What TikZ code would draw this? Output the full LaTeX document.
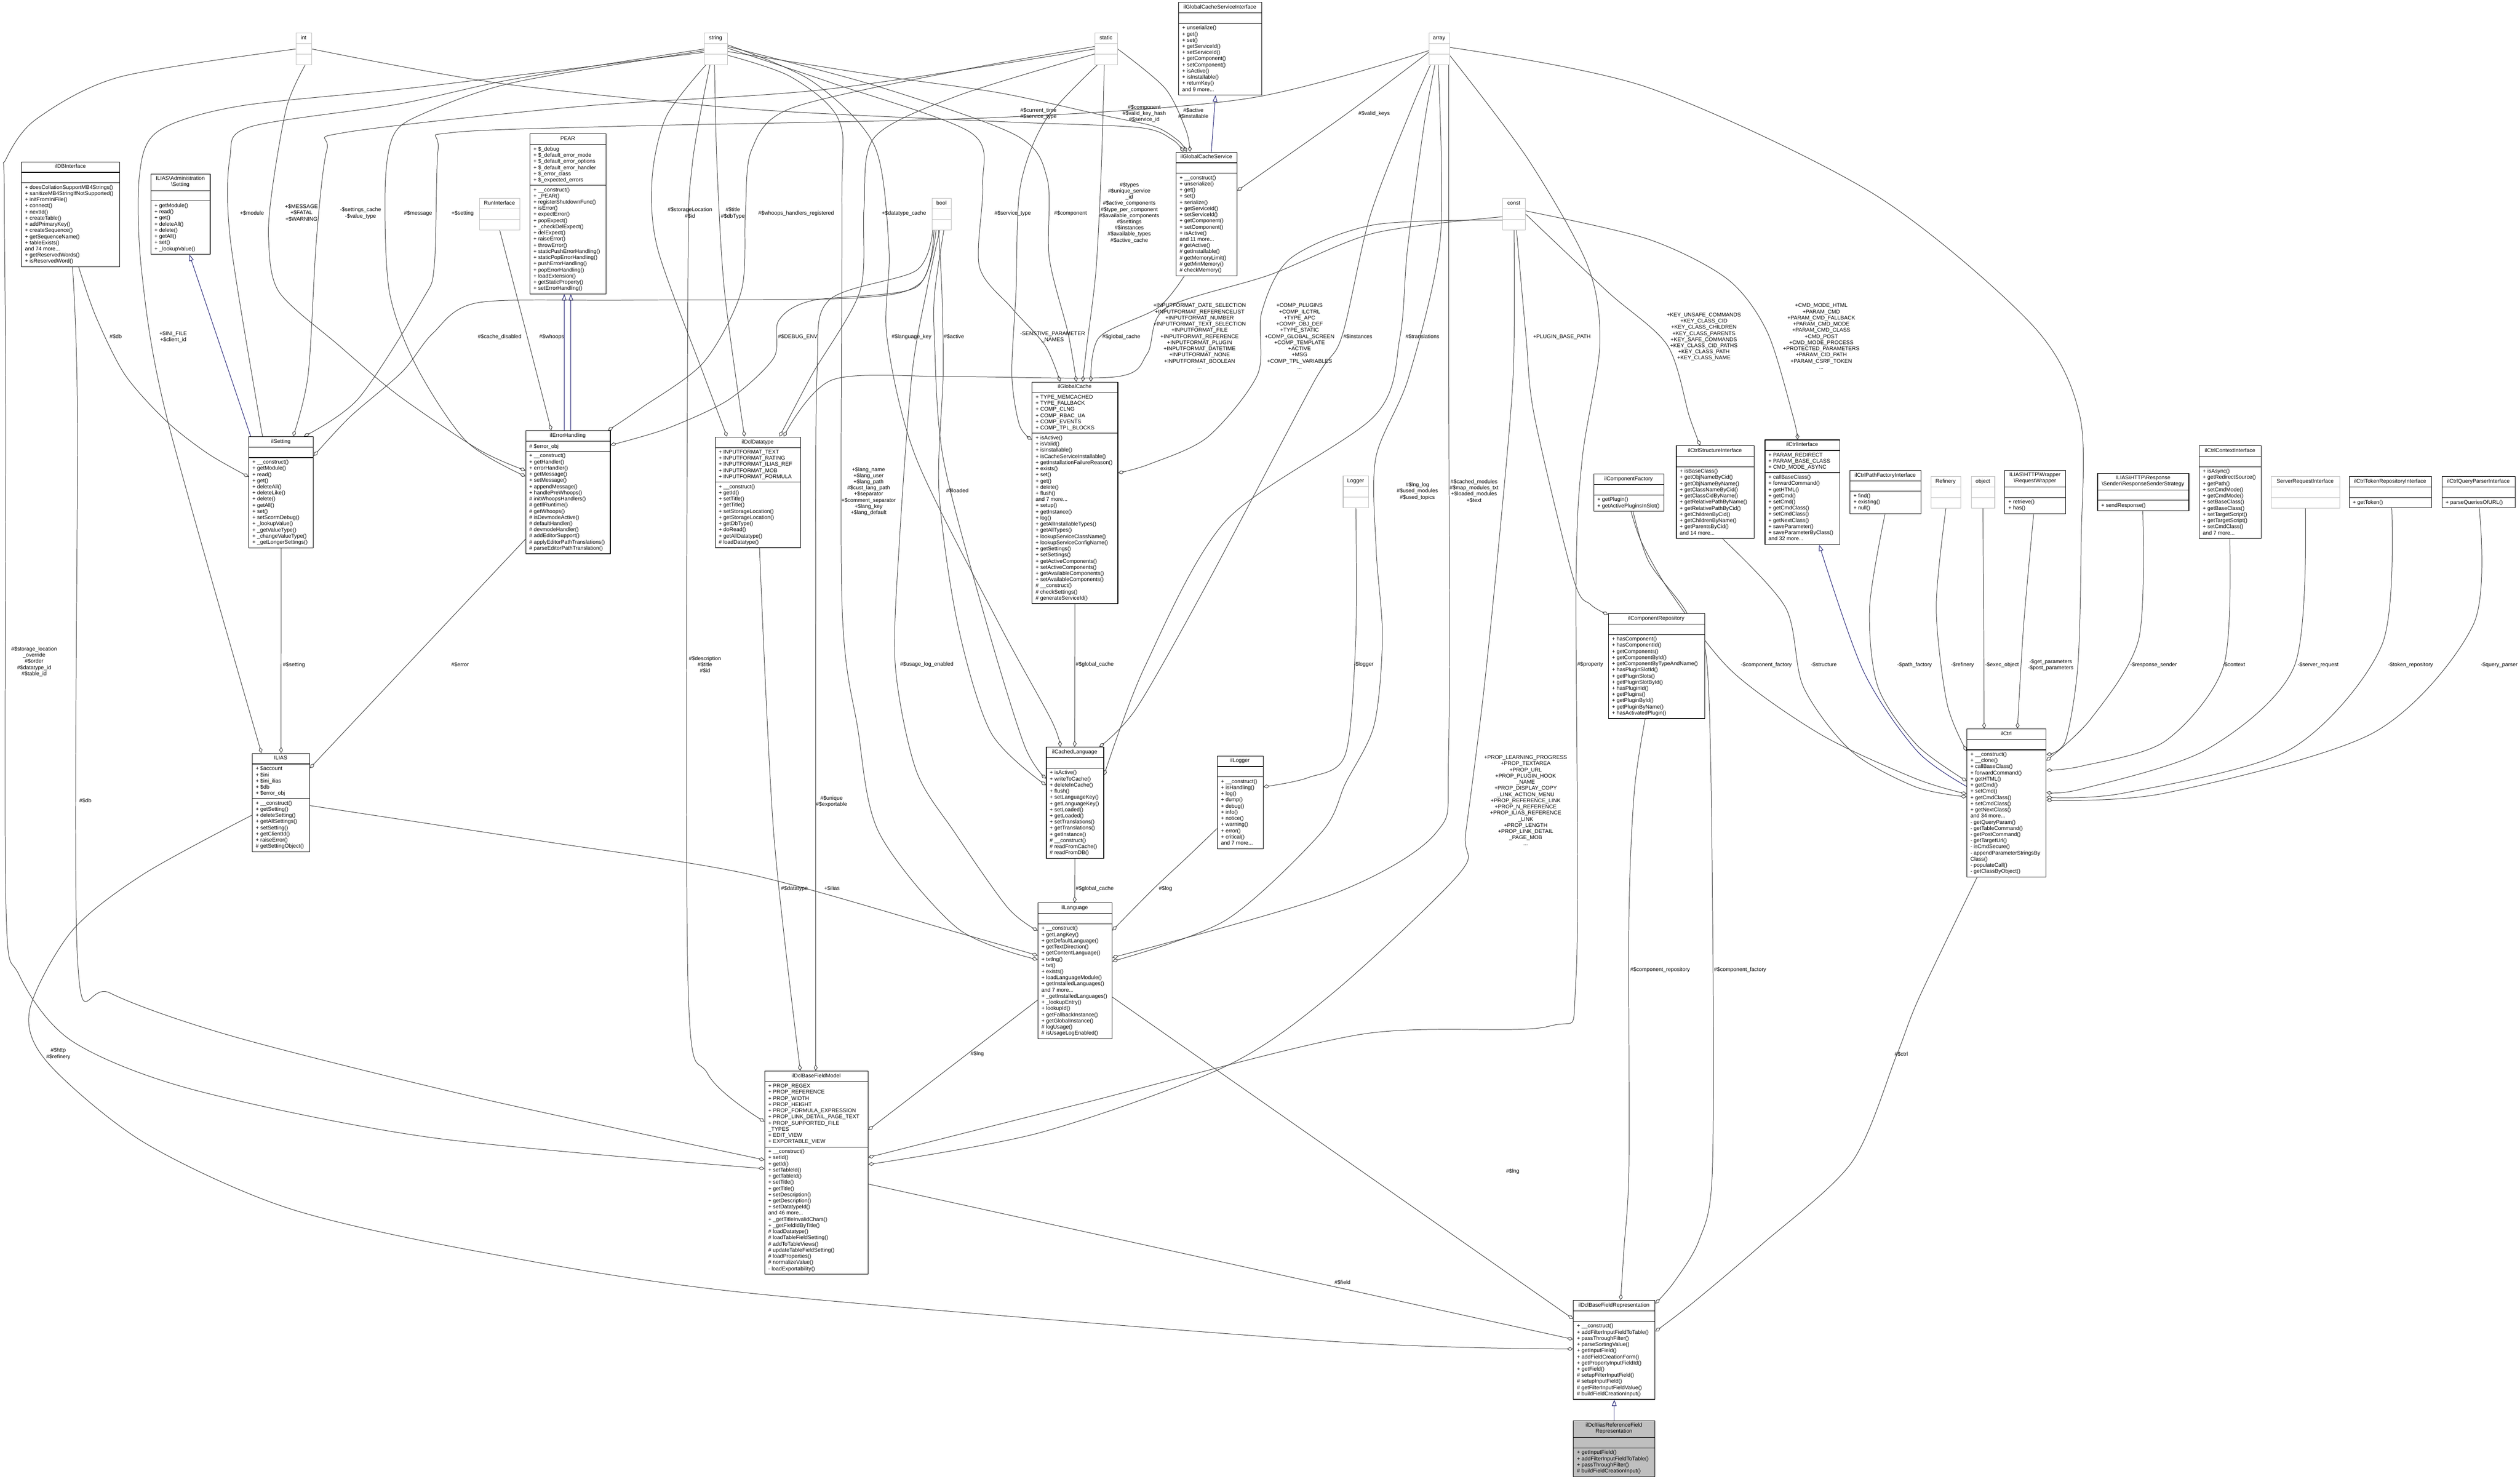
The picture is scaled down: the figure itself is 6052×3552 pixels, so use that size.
\documentclass[tikz,border=0pt]{standalone}
\usepackage{fontspec}
\setmainfont{Liberation Sans}
\usetikzlibrary{arrows.meta}
\definecolor{edgec}{HTML}{404040}
\definecolor{bluec}{HTML}{191970}
\definecolor{grayc}{HTML}{BFBFBF}
\newcommand{\dfont}{\fontsize{13}{14.8}\selectfont}
\pgfdeclarelayer{back}\pgfdeclarelayer{edges}\pgfsetlayers{back,edges,main}
\newcommand{\umlbox}[9]{%
 \pgfmathsetmacro{\hA}{11.2+14.8*#5}%
 \pgfmathsetmacro{\hB}{(#6==0)*25+(#6>0)*(14.8*#6+9)}%
 \pgfmathsetmacro{\hC}{(#7==0)*25+(#7>0)*(14.8*#7+9)}%
 \pgfmathsetmacro{\yA}{#3+\hA}%
 \pgfmathsetmacro{\yB}{#3+\hA+\hB}%
 \pgfmathsetmacro{\hT}{\hA+\hB+\hC}%
 \pgfmathsetmacro{\xR}{#2+#4}%
 \pgfmathsetmacro{\xC}{#2+#4/2}%
 \node[box,#9,minimum width=#4pt,minimum height=\hT pt,anchor=north west] (#1) at (#2,#3) {};%
 \draw[sepl,#9] (#2,\yA) -- (\xR,\yA);%
 \draw[sepl,#9] (#2,\yB) -- (\xR,\yB);%
 \node[ttl,anchor=north] (#1-t) at (\xC,#3+5.6) {#8};%
 \coordinate (#1-a) at (#2+9,\yA+5.6);%
 \coordinate (#1-m) at (#2+9,\yB+5.6);%
}
\begin{document}
\begin{tikzpicture}[x=1pt,y=-1pt,line join=round,
 box/.style={inner sep=0pt,line width=1.4pt},
 nrm/.style={draw=black,fill=white},
 gry/.style={draw=grayc,fill=white},
 fil/.style={draw=black,fill=grayc},
 sepl/.style={line width=1.4pt},
 ttl/.style={inner sep=0pt,font=\dfont,align=center,execute at begin node={\strut}},
 memb/.style={inner sep=0pt,font=\dfont,align=left,anchor=north west,execute at begin node={\strut}},
 lbl/.style={inner sep=0pt,font=\dfont,align=center,execute at begin node={\strut}},
 ue/.style={draw=edgec,line width=1.2pt,-{Diamond[open,length=15pt,width=9pt,line width=1.2pt]}},
 ie/.style={draw=bluec,line width=1.2pt,-{Triangle[open,length=15pt,width=11pt,line width=1.2pt]}}]
\begin{pgfonlayer}{back}
\fill[white] (0,0) rectangle (6052,3552);
\end{pgfonlayer}
\useasboundingbox (0,0) rectangle (6052,3552);

% ---------- classes ----------
\umlbox{int}{710}{79}{38}{1}{0}{0}{int}{gry}
\umlbox{string}{1691}{79}{55}{1}{0}{0}{string}{gry}
\umlbox{static}{2629}{79}{54}{1}{0}{0}{static}{gry}
\umlbox{array}{3431}{79}{50}{1}{0}{0}{array}{gry}
\umlbox{bool}{2238}{476}{46}{1}{0}{0}{bool}{gry}
\umlbox{const}{3608}{476}{55}{1}{0}{0}{const}{gry}
\umlbox{RunInterface}{1151}{476}{97}{1}{0}{0}{RunInterface}{gry}
\umlbox{Logger}{3225}{1143}{61}{1}{0}{0}{Logger}{gry}
\umlbox{Refinery}{4637}{1144}{71}{1}{0}{0}{Refinery}{gry}
\umlbox{object}{4734}{1144}{56}{1}{0}{0}{object}{gry}
\umlbox{SRI}{5454}{1144}{164}{1}{0}{0}{ServerRequestInterface}{gry}

\umlbox{ilDBInterface}{51}{388}{236}{1}{0}{13}{ilDBInterface}{nrm}
\node[memb] (ilDBInterface-mt) at (ilDBInterface-m) {+ doesCollationSupportMB4Strings()\\+ sanitizeMB4StringIfNotSupported()\\+ initFromIniFile()\\+ connect()\\+ nextId()\\+ createTable()\\+ addPrimaryKey()\\+ createSequence()\\+ getSequenceName()\\+ tableExists()\\and 74 more...\\+ getReservedWords()\\+ isReservedWord()};

\umlbox{Setting}{362}{417}{142}{2}{0}{8}{ILIAS\textbackslash Administration\\\textbackslash Setting}{nrm}
\node[memb] (Setting-mt) at (Setting-m) {+ getModule()\\+ read()\\+ get()\\+ deleteAll()\\+ delete()\\+ getAll()\\+ set()\\+ \_lookupValue()};

\umlbox{PEAR}{1272}{321}{183}{1}{6}{17}{PEAR}{nrm}
\node[memb] (PEAR-at) at (PEAR-a) {+ \$\_debug\\+ \$\_default\_error\_mode\\+ \$\_default\_error\_options\\+ \$\_default\_error\_handler\\+ \$\_error\_class\\+ \$\_expected\_errors};
\node[memb] (PEAR-mt) at (PEAR-m) {+ \_\_construct()\\+ \_PEAR()\\+ registerShutdownFunc()\\+ isError()\\+ expectError()\\+ popExpect()\\+ \_checkDelExpect()\\+ delExpect()\\+ raiseError()\\+ throwError()\\+ staticPushErrorHandling()\\+ staticPopErrorHandling()\\+ pushErrorHandling()\\+ popErrorHandling()\\+ loadExtension()\\+ getStaticProperty()\\+ setErrorHandling()};

\umlbox{GCSI}{2830}{5}{199}{1}{0}{11}{ilGlobalCacheServiceInterface}{nrm}
\node[memb] (GCSI-mt) at (GCSI-m) {+ unserialize()\\+ get()\\+ set()\\+ getServiceId()\\+ setServiceId()\\+ getComponent()\\+ setComponent()\\+ isActive()\\+ isInstallable()\\+ returnKey()\\and 9 more...};

\umlbox{GCS}{2824}{365}{146}{1}{0}{16}{ilGlobalCacheService}{nrm}
\node[memb] (GCS-mt) at (GCS-m) {+ \_\_construct()\\+ unserialize()\\+ get()\\+ set()\\+ serialize()\\+ getServiceId()\\+ setServiceId()\\+ getComponent()\\+ setComponent()\\+ isActive()\\and 11 more...\\\# getActive()\\\# getInstallable()\\\# getMemoryLimit()\\\# getMinMemory()\\\# checkMemory()};

\umlbox{ilSetting}{597}{1048}{155}{1}{0}{14}{ilSetting}{nrm}
\node[memb] (ilSetting-mt) at (ilSetting-m) {+ \_\_construct()\\+ getModule()\\+ read()\\+ get()\\+ deleteAll()\\+ deleteLike()\\+ delete()\\+ getAll()\\+ set()\\+ setScormDebug()\\+ \_lookupValue()\\+ \_getValueType()\\+ \_changeValueType()\\+ \_getLongerSettings()};

\umlbox{EH}{1262}{1034}{203}{1}{1}{16}{ilErrorHandling}{nrm}
\node[memb] (EH-at) at (EH-a) {\# \$error\_obj};
\node[memb] (EH-mt) at (EH-m) {+ \_\_construct()\\+ getHandler()\\+ errorHandler()\\+ getMessage()\\+ setMessage()\\+ appendMessage()\\+ handlePreWhoops()\\\# initWhoopsHandlers()\\\# getIlRuntime()\\\# getWhoops()\\\# isDevmodeActive()\\\# defaultHandler()\\\# devmodeHandler()\\\# addEditorSupport()\\\# applyEditorPathTranslations()\\\# parseEditorPathTranslation()};

\umlbox{DT}{1717}{1049}{205}{1}{5}{10}{ilDclDatatype}{nrm}
\node[memb] (DT-at) at (DT-a) {+ INPUTFORMAT\_TEXT\\+ INPUTFORMAT\_RATING\\+ INPUTFORMAT\_ILIAS\_REF\\+ INPUTFORMAT\_MOB\\+ INPUTFORMAT\_FORMULA};
\node[memb] (DT-mt) at (DT-m) {+ \_\_construct()\\+ getId()\\+ setTitle()\\+ getTitle()\\+ setStorageLocation()\\+ getStorageLocation()\\+ getDbType()\\+ doRead()\\+ getAllDatatype()\\\# loadDatatype()};

\umlbox{GC}{2478}{917}{206}{1}{6}{27}{ilGlobalCache}{nrm}
\node[memb] (GC-at) at (GC-a) {+ TYPE\_MEMCACHED\\+ TYPE\_FALLBACK\\+ COMP\_CLNG\\+ COMP\_RBAC\_UA\\+ COMP\_EVENTS\\+ COMP\_TPL\_BLOCKS};
\node[memb] (GC-mt) at (GC-m) {+ isActive()\\+ isValid()\\+ isInstallable()\\+ isCacheServiceInstallable()\\+ getInstallationFailureReason()\\+ exists()\\+ set()\\+ get()\\+ delete()\\+ flush()\\and 7 more...\\+ setup()\\+ getInstance()\\+ log()\\+ getAllInstallableTypes()\\+ getAllTypes()\\+ lookupServiceClassName()\\+ lookupServiceConfigName()\\+ getSettings()\\+ setSettings()\\+ getActiveComponents()\\+ setActiveComponents()\\+ getAvailableComponents()\\+ setAvailableComponents()\\\# \_\_construct()\\\# checkSettings()\\\# generateServiceId()};

\umlbox{CS}{4025}{1070}{187}{1}{0}{11}{ilCtrlStructureInterface}{nrm}
\node[memb] (CS-mt) at (CS-m) {+ isBaseClass()\\+ getObjNameByCid()\\+ getObjNameByName()\\+ getClassNameByCid()\\+ getClassCidByName()\\+ getRelativePathByName()\\+ getRelativePathByCid()\\+ getChildrenByCid()\\+ getChildrenByName()\\+ getParentsByCid()\\and 14 more...};

\umlbox{CI}{4238}{1056}{180}{1}{3}{11}{ilCtrlInterface}{nrm}
\node[memb] (CI-at) at (CI-a) {+ PARAM\_REDIRECT\\+ PARAM\_BASE\_CLASS\\+ CMD\_MODE\_ASYNC};
\node[memb] (CI-mt) at (CI-m) {+ callBaseClass()\\+ forwardCommand()\\+ getHTML()\\+ getCmd()\\+ setCmd()\\+ getCmdClass()\\+ setCmdClass()\\+ getNextClass()\\+ saveParameter()\\+ saveParameterByClass()\\and 32 more...};

\umlbox{CF}{3827}{1138}{168}{1}{0}{2}{ilComponentFactory}{nrm}
\node[memb] (CF-mt) at (CF-m) {+ getPlugin()\\+ getActivePluginsInSlot()};

\umlbox{PF}{4442}{1129}{171}{1}{0}{3}{ilCtrlPathFactoryInterface}{nrm}
\node[memb] (PF-mt) at (PF-m) {+ find()\\+ existing()\\+ null()};

\umlbox{RW}{4814}{1129}{146}{2}{0}{2}{ILIAS\textbackslash HTTP\textbackslash Wrapper\\\textbackslash RequestWrapper}{nrm}
\node[memb] (RW-mt) at (RW-m) {+ retrieve()\\+ has()};

\umlbox{RS}{5037}{1136}{219}{2}{0}{1}{ILIAS\textbackslash HTTP\textbackslash Response\\\textbackslash Sender\textbackslash ResponseSenderStrategy}{nrm}
\node[memb] (RS-mt) at (RS-m) {+ sendResponse()};

\umlbox{CC}{5281}{1070}{149}{1}{0}{11}{ilCtrlContextInterface}{nrm}
\node[memb] (CC-mt) at (CC-m) {+ isAsync()\\+ getRedirectSource()\\+ getPath()\\+ setCmdMode()\\+ getCmdMode()\\+ setBaseClass()\\+ getBaseClass()\\+ setTargetScript()\\+ getTargetScript()\\+ setCmdClass()\\and 7 more...};

\umlbox{CT}{5641}{1144}{198}{1}{0}{1}{ilCtrlTokenRepositoryInterface}{nrm}
\node[memb] (CT-mt) at (CT-m) {+ getToken()};

\umlbox{CQ}{5864}{1144}{176}{1}{0}{1}{ilCtrlQueryParserInterface}{nrm}
\node[memb] (CQ-mt) at (CQ-m) {+ parseQueriesOfURL()};

\umlbox{CR}{3862}{1473}{231}{1}{0}{13}{ilComponentRepository}{nrm}
\node[memb] (CR-mt) at (CR-m) {+ hasComponent()\\+ hasComponentId()\\+ getComponents()\\+ getComponentById()\\+ getComponentByTypeAndName()\\+ hasPluginSlotId()\\+ getPluginSlots()\\+ getPluginSlotById()\\+ hasPluginId()\\+ getPlugins()\\+ getPluginById()\\+ getPluginByName()\\+ hasActivatedPlugin()};

\umlbox{ILIAS}{605}{1809}{138}{1}{5}{8}{ILIAS}{nrm}
\node[memb] (ILIAS-at) at (ILIAS-a) {+ \$account\\+ \$ini\\+ \$ini\_ilias\\+ \$db\\+ \$error\_obj};
\node[memb] (ILIAS-mt) at (ILIAS-m) {+ \_\_construct()\\+ getSetting()\\+ deleteSetting()\\+ getAllSettings()\\+ setSetting()\\+ getClientId()\\+ raiseError()\\\# getSettingObject()};

\umlbox{CL}{2512}{1794}{138}{1}{0}{14}{ilCachedLanguage}{nrm}
\node[memb] (CL-mt) at (CL-m) {+ isActive()\\+ writeToCache()\\+ deleteInCache()\\+ flush()\\+ setLanguageKey()\\+ getLanguageKey()\\+ setLoaded()\\+ getLoaded()\\+ setTranslations()\\+ getTranslations()\\+ getInstance()\\\# \_\_construct()\\\# readFromCache()\\\# readFromDB()};

\umlbox{ilLogger}{2923}{1815}{110}{1}{0}{11}{ilLogger}{nrm}
\node[memb] (ilLogger-mt) at (ilLogger-m) {+ \_\_construct()\\+ isHandling()\\+ log()\\+ dump()\\+ debug()\\+ info()\\+ notice()\\+ warning()\\+ error()\\+ critical()\\and 7 more...};

\umlbox{ilCtrl}{4723}{1750}{190}{1}{0}{20}{ilCtrl}{nrm}
\node[memb] (ilCtrl-mt) at (ilCtrl-m) {+ \_\_construct()\\+ \_\_clone()\\+ callBaseClass()\\+ forwardCommand()\\+ getHTML()\\+ getCmd()\\+ setCmd()\\+ getCmdClass()\\+ setCmdClass()\\+ getNextClass()\\and 34 more...\\- getQueryParam()\\- getTableCommand()\\- getPostCommand()\\- getTargetUrl()\\- isCmdSecure()\\- appendParameterStringsBy\\Class()\\- populateCall()\\- getClassByObject()};

\umlbox{LNG}{2492}{2168}{178}{1}{0}{18}{ilLanguage}{nrm}
\node[memb] (LNG-mt) at (LNG-m) {+ \_\_construct()\\+ getLangKey()\\+ getDefaultLanguage()\\+ getTextDirection()\\+ getContentLanguage()\\+ txtlng()\\+ txt()\\+ exists()\\+ loadLanguageModule()\\+ getInstalledLanguages()\\and 7 more...\\+ \_getInstalledLanguages()\\+ \_lookupEntry()\\+ lookupId()\\+ getFallbackInstance()\\+ getGlobalInstance()\\\# logUsage()\\\# isUsageLogEnabled()};

\umlbox{FM}{1836}{2572}{248}{1}{10}{20}{ilDclBaseFieldModel}{nrm}
\node[memb] (FM-at) at (FM-a) {+ PROP\_REGEX\\+ PROP\_REFERENCE\\+ PROP\_WIDTH\\+ PROP\_HEIGHT\\+ PROP\_FORMULA\_EXPRESSION\\+ PROP\_LINK\_DETAIL\_PAGE\_TEXT\\+ PROP\_SUPPORTED\_FILE\\\_TYPES\\+ EDIT\_VIEW\\+ EXPORTABLE\_VIEW};
\node[memb] (FM-mt) at (FM-m) {+ \_\_construct()\\+ setId()\\+ getId()\\+ setTableId()\\+ getTableId()\\+ setTitle()\\+ getTitle()\\+ setDescription()\\+ getDescription()\\+ setDatatypeId()\\and 46 more...\\+ \_getTitleInvalidChars()\\+ \_getFieldIdByTitle()\\\# loadDatatype()\\\# loadTableFieldSetting()\\\# addToTableViews()\\\# updateTableFieldSetting()\\\# loadProperties()\\\# normalizeValue()\\- loadExportability()};

\umlbox{BFR}{3778}{3123}{196}{1}{0}{12}{ilDclBaseFieldRepresentation}{nrm}
\node[memb] (BFR-mt) at (BFR-m) {+ \_\_construct()\\+ addFilterInputFieldToTable()\\+ passThroughFilter()\\+ parseSortingValue()\\+ getInputField()\\+ addFieldCreationForm()\\+ getPropertyInputFieldId()\\+ getField()\\\# setupFilterInputField()\\\# setupInputField()\\\# getFilterInputFieldValue()\\\# buildFieldCreationInput()};

\umlbox{REF}{3778}{3412}{196}{2}{0}{4}{ilDclIliasReferenceField\\Representation}{fil}
\node[memb] (REF-mt) at (REF-m) {+ getInputField()\\+ addFilterInputFieldToTable()\\+ passThroughFilter()\\\# buildFieldCreationInput()};

% ---------- edges ----------
\begin{pgfonlayer}{edges}
% inheritance
\draw[ie] ([xshift=5pt]ilSetting.north west) -- ([xshift=93pt]Setting.south west);
\draw[ie] ([xshift=93pt]EH.north west) -- ([xshift=83pt]PEAR.south west);
\draw[ie] ([xshift=109pt]EH.north west) -- ([xshift=99pt]PEAR.south west);
\draw[ie] ([xshift=85pt]GCS.north west) -- ([xshift=89pt]GCSI.south west);
\draw[ie] plot[smooth] coordinates {([yshift=-139pt]ilCtrl.north west) (4604,1804) (4475,1612) ([xshift=131pt]CI.south west)};
\draw[ie] (REF.north) -- (BFR.south);
% usage
\draw[ue] plot[smooth] coordinates {(string.west) (1234,190) (957,250) (600,305) (552,380) (553,574) (622,1000) ([xshift=35pt]ilSetting.north west)};
\draw[ue] plot[smooth] coordinates {([yshift=-8pt]string.west) (1000,210) (574,255) (380,315) (335,420) (340,650) (400,1000) ([xshift=23pt]ILIAS.north west)};
\draw[ue] plot[smooth] coordinates {([xshift=3pt]int.south) (689,255) (655,446) (645,574) (670,701) (813,829) (957,950) (1150,1080) ([yshift=-96pt]EH.north west)};
\draw[ue] plot[smooth] coordinates {(static.west) (1980,215) (1400,255) (830,318) (785,360) (760,574) (740,900) ([xshift=107pt]ilSetting.north west)};
\draw[ue] plot[smooth] coordinates {([yshift=-4pt]string.west) (1234,198) (1014,274) (945,325) (925,450) (935,700) (1000,880) (1120,1060) ([yshift=-110pt]EH.north west)};
\draw[ue] plot[smooth] coordinates {([yshift=-4pt]array.west) (3000,236) (2400,282) (1500,303) (1081,319) (1052,360) (1043,638) (1014,721) (861,957) ([xshift=133pt]ilSetting.north west)};
\draw[ue] plot[smooth] coordinates {([xshift=138pt]ilDBInterface.south west) (230,760) (300,900) (400,1012) (500,1090) ([yshift=-97pt]ilSetting.north west)};
\draw[ue] plot[smooth] coordinates {([xshift=10pt]bool.south west) (2210,680) (2050,716) (1500,721) (1148,727) (1040,800) (966,893) (842,1000) ([yshift=-47pt]ilSetting.north east)};
\draw[ue] plot[smooth] coordinates {(RunInterface.south) (1264,800) ([xshift=62pt]EH.north west)};
\draw[ue] plot[smooth] coordinates {([yshift=6pt]static.west) (2300,170) (1900,260) (1805,360) (1790,513) (1780,700) (1690,870) (1540,980) ([xshift=198pt]EH.north west)};
\draw[ue] plot[smooth] coordinates {([xshift=5pt]bool.south west) (2200,690) (1950,722) (1870,770) (1858,860) (1750,960) (1600,1030) ([yshift=-35pt]EH.north east)};
\draw[ue] plot[smooth] coordinates {([xshift=4pt]string.south west) (1600,280) (1566,430) (1580,600) (1690,900) ([xshift=29pt]DT.north west)};
\draw[ue] plot[smooth] coordinates {([xshift=25pt]string.south west) (1722,400) (1740,700) ([xshift=71pt]DT.north west)};
\draw[ue] plot[smooth] coordinates {([xshift=14pt]string.south west) (1662,400) (1652,700) (1652,2350) (1700,2580) ([yshift=-122pt]FM.north west)};
\draw[ue] plot[smooth] coordinates {([yshift=-12pt]static.west) (2300,230) (2100,330) (2075,500) (2065,700) (1950,900) ([xshift=155pt]DT.north west)};
\draw[ue] plot[smooth] coordinates {([yshift=-6pt]const.west) (3300,560) (3050,660) (2800,740) (2755,850) (2680,905) (2300,905) (2000,912) ([xshift=165pt]DT.north west)};
\draw[ue] plot[smooth] coordinates {([xshift=23pt]static.south west) (2645,400) (2632,650) (2610,830) ([xshift=122pt]GC.north west)};
\draw[ue] plot[smooth] coordinates {([yshift=6pt]string.east) (2100,205) (2440,325) (2515,430) (2520,620) (2565,800) ([xshift=107pt]GC.north west)};
\draw[ue] plot[smooth] coordinates {([yshift=2pt]string.east) (2000,200) (2332,319) (2360,446) (2352,640) (2430,740) (2510,830) ([xshift=68pt]GC.north west)};
\draw[ue] plot[smooth] coordinates {([xshift=20pt]GCS.south west) (2780,740) (2640,810) ([xshift=142pt]GC.north west)};
\draw[ue] plot[smooth] coordinates {([xshift=6pt]static.south west) (2510,290) (2450,450) (2440,700) (2430,900) (2448,1020) ([yshift=-139pt]GC.north west)};
\draw[ue] plot[smooth] coordinates {([yshift=-14pt]const.west) (3300,540) (3100,620) (3030,750) (3020,900) (2900,1050) (2760,1115) ([yshift=-219pt]GC.north east)};
\draw[ue] plot[smooth] coordinates {(int.east) (1200,200) (1800,262) (2400,292) (2732,306) (2815,335) ([xshift=18pt]GCS.north west)};
\draw[ue] plot[smooth] coordinates {([yshift=-6pt]string.east) (2100,180) (2400,223) (2649,277) (2773,304) (2831,339) ([xshift=26pt]GCS.north west)};
\draw[ue] plot[smooth] coordinates {(static.east) (2798,212) (2848,312) ([xshift=34pt]GCS.north west)};
\draw[ue] plot[smooth] coordinates {([yshift=-8pt]array.west) (3229,277) ([yshift=-93pt]GCS.north east)};
\draw[ue] (GC.south) -- ([xshift=69pt]CL.north west);
\draw[ue] plot[smooth] coordinates {([yshift=10pt]string.east) (1950,195) (2100,350) (2135,600) (2130,810) (2200,1100) (2400,1500) (2525,1730) ([xshift=34pt]CL.north west)};
\draw[ue] plot[smooth] coordinates {([xshift=5pt]bool.south) (2245,700) (2244,810) (2265,1100) (2370,1500) (2460,1790) ([yshift=-76pt]CL.north west)};
\draw[ue] plot[smooth] coordinates {([xshift=16pt]bool.south west) (2262,700) (2265,900) (2255,1180) (2300,1500) (2380,1760) ([yshift=-92pt]CL.north west)};
\draw[ue] plot[smooth] coordinates {([xshift=4pt]array.south west) (3390,260) (3290,520) (3222,810) (3154,920) (2900,1400) (2730,1700) ([xshift=128pt]CL.north west)};
\draw[ue] plot[smooth] coordinates {([xshift=15pt]array.south west) (3420,300) (3380,600) (3362,810) (3300,1000) (2944,1251) (2750,1600) ([yshift=-68pt]CL.north east)};
\draw[ue] (CL.south) -- ([xshift=89pt]LNG.north west);
\draw[ue] plot[smooth] coordinates {([yshift=-126pt]ILIAS.north east) (1300,2020) (1800,2100) (2300,2240) ([yshift=-127pt]LNG.north west)};
\draw[ue] plot[smooth] coordinates {([yshift=-15pt]string.east) (1900,185) (2015,290) (2022,500) (2022,1447) (2060,1750) (2111,2000) (2300,2230) ([yshift=-137pt]LNG.north west)};
\draw[ue] plot[smooth] coordinates {([xshift=-5pt]bool.south) (2225,700) (2190,900) (2160,1300) (2150,1597) (2200,1850) (2293,2000) (2420,2180) ([yshift=-67pt]LNG.north west)};
\draw[ue] plot[smooth] coordinates {([yshift=-175pt]ilLogger.north west) (2850,2060) (2770,2135) ([yshift=-67pt]LNG.north east)};
\draw[ue] plot[smooth] coordinates {([xshift=48pt]array.south west) (3479,800) (3479,1800) (3449,2000) (3200,2148) ([yshift=-132pt]LNG.north east)};
\draw[ue] plot[smooth] coordinates {([xshift=23pt]array.south west) (3459,574) (3383,906) (3304,1100) (3305,1321) (3320,1531) (3300,1742) (3231,1882) (3173,2000) (2944,2210) ([yshift=-141pt]LNG.north east)};
\draw[ue] plot[smooth] coordinates {(Logger.south) (3256,1531) (3231,1812) (3141,1868) ([yshift=-75pt]ilLogger.north east)};
\draw[ue] plot[smooth] coordinates {([xshift=107pt]DT.south west) (1858,2000) ([xshift=86pt]FM.north west)};
\draw[ue] plot[smooth] coordinates {([xshift=2pt]bool.south west) (2200,650) (1990,722) (1962,900) (1959,1500) ([xshift=123pt]FM.north west)};
\draw[ue] plot[smooth] coordinates {([xshift=123pt]ilDBInterface.south west) (186,1000) (186,2300) (264,2385) (562,2490) (1148,2637) ([yshift=-214pt]FM.north west)};
\draw[ue] plot[smooth] coordinates {(int.west) (287,185) (86,287) (14,383) (10,446) (14,1000) (14,2163) (46,2342) (172,2500) (459,2616) (1033,2732) ([yshift=-235pt]FM.north west)};
\draw[ue] ([yshift=-234pt]LNG.north west) -- ([yshift=-142pt]FM.north east);
\draw[ue] plot[smooth] coordinates {([yshift=-55pt]array.north east) (3670,383) (3813,638) (3842,829) (3800,1100) (3785,1391) (3785,2346) (3720,2465) (3265,2485) (2600,2650) ([yshift=-208pt]FM.north east)};
\draw[ue] plot[smooth] coordinates {([xshift=28pt]const.south west) (3634,900) (3600,1300) (3562,1672) (3520,2000) (3504,2099) (3200,2386) (2944,2561) (2500,2720) ([yshift=-225pt]FM.north east)};
\draw[ue] plot[smooth] coordinates {([xshift=34pt]const.south west) (3665,810) (3685,1000) (3779,1391) (3820,1452) ([yshift=-3pt]CR.north west)};
\draw[ue] plot[smooth] coordinates {(const.east) (3861,701) (4004,829) (4057,1000) ([xshift=58pt]CS.north west)};
\draw[ue] plot[smooth] coordinates {([yshift=8pt]const.east) (3957,574) (4148,670) (4244,797) (4306,1000) ([xshift=79pt]CI.north west)};
\draw[ue] plot[smooth] coordinates {([yshift=-35pt]array.north east) (3957,210) (4500,466) (4880,780) (4995,1000) (4998,1300) (4990,1600) (4960,1780) ([yshift=-62pt]ilCtrl.north east)};
\draw[ue] plot[smooth] coordinates {(Refinery.south) (4650,1460) (4676,1690) ([yshift=-54pt]ilCtrl.north west)};
\draw[ue] plot[smooth] coordinates {([xshift=28pt]object.south west) (4764,1500) ([xshift=42pt]ilCtrl.north west)};
\draw[ue] plot[smooth] coordinates {([xshift=70pt]RW.south west) (4860,1500) ([xshift=122pt]ilCtrl.north west)};
\draw[ue] plot[smooth] coordinates {([xshift=85pt]PF.south west) (4490,1459) (4510,1650) (4604,1790) ([yshift=-126pt]ilCtrl.north west)};
\draw[ue] plot[smooth] coordinates {([xshift=90pt]CF.south west) (3944,1306) (4015,1428) (4159,1612) (4374,1765) (4600,1870) ([yshift=-157pt]ilCtrl.north west)};
\draw[ue] plot[smooth] coordinates {([xshift=112pt]CS.south west) (4288,1459) (4331,1650) (4446,1804) (4600,1890) ([yshift=-164pt]ilCtrl.north west)};
\draw[ue] plot[smooth] coordinates {([xshift=109pt]RS.south west) (5136,1536) (5021,1727) ([yshift=-77pt]ilCtrl.north east)};
\draw[ue] plot[smooth] coordinates {([xshift=74pt]CC.south west) (5340,1600) (5200,1780) (5000,1840) ([yshift=-100pt]ilCtrl.north east)};
\draw[ue] plot[smooth] coordinates {(SRI.south) (5510,1600) (5300,1800) (5000,1895) ([yshift=-153pt]ilCtrl.north east)};
\draw[ue] plot[smooth] coordinates {([xshift=103pt]CT.south west) (5720,1550) (5500,1800) (5100,1905) ([yshift=-165pt]ilCtrl.north east)};
\draw[ue] plot[smooth] coordinates {([xshift=90pt]CQ.south west) (5940,1500) (5700,1760) (5200,1905) ([yshift=-172pt]ilCtrl.north east)};
\draw[ue] plot[smooth] coordinates {([xshift=89pt]CR.south west) (3925,1900) (3912,2200) (3912,2800) (3900,3000) ([xshift=114pt]BFR.north west)};
\draw[ue] plot[smooth] coordinates {([xshift=95pt]CF.south west) (3960,1350) (4050,1470) (4100,1600) (4113,2200) (4112,2820) (4080,2980) (4020,3080) ([yshift=-8pt]BFR.north east)};
\draw[ue] plot[smooth] coordinates {([xshift=25pt]ilCtrl.south west) (4609,2396) (4555,2534) (4447,2792) (4230,2990) (4067,3128) ([yshift=-75pt]BFR.north east)};
\draw[ue] ([yshift=-227pt]LNG.north east) -- ([yshift=-45pt]BFR.north west);
\draw[ue] ([yshift=-272pt]FM.north east) -- ([yshift=-94pt]BFR.north west);
\draw[ue] plot[smooth] coordinates {([yshift=-149pt]ILIAS.north west) (344,2100) (172,2237) (71,2427) (115,2553) (344,2743) (689,2901) (1148,3006) (1800,3106) (3200,3222) ([yshift=-117pt]BFR.north west)};
\draw[ue] ([yshift=-261pt]EH.north west) -- ([yshift=-36pt]ILIAS.north east);
\draw[ue] (ilSetting.south) -- ([xshift=70pt]ILIAS.north west);
\end{pgfonlayer}

% ---------- labels ----------
\node[lbl] (l01) at (605,513) {+\$module};
\node[lbl] (l02) at (724,513) {+\$MESSAGE\\+\$FATAL\\+\$WARNING};
\node[lbl] (l03) at (866,513) {-\$settings\_cache\\-\$value\_type};
\node[lbl] (l04) at (1004,513) {\#\$message};
\node[lbl] (l05) at (1111,513) {+\$setting};
\node[lbl] (l06) at (1657,513) {\#\$storageLocation\\\#\$id};
\node[lbl] (l07) at (1760,513) {\#\$title\\\#\$dbType};
\node[lbl] (l08) at (1912,513) {\#\$whoops\_handlers\_registered};
\node[lbl] (l09) at (2171,513) {+\$datatype\_cache};
\node[lbl] (l10) at (2432,513) {\#\$service\_type};
\node[lbl] (l11) at (2571,513) {\#\$component};
\node[lbl] (l12) at (2712,512) {\#\$types\\\#\$unique\_service\\\_id\\\#\$active\_components\\\#\$type\_per\_component\\\#\$available\_components\\\#\$settings\\\#\$instances\\\#\$available\_types\\\#\$active\_cache};
\node[lbl] (l13) at (2494,274) {\#\$current\_time\\\#\$service\_type};
\node[lbl] (l14) at (2748,274) {\#\$component\\\#\$valid\_key\_hash\\\#\$service\_id};
\node[lbl] (l15) at (2866,274) {\#\$active\\\#\$installable};
\node[lbl] (l16) at (3300,274) {\#\$valid\_keys};
\node[lbl] (l17) at (278,810) {\#\$db};
\node[lbl] (l18) at (416,810) {+\$INI\_FILE\\+\$client\_id};
\node[lbl] (l19) at (1200,810) {\#\$cache\_disabled};
\node[lbl] (l20) at (1325,810) {\#\$whoops};
\node[lbl] (l21) at (1916,810) {\#\$DEBUG\_ENV};
\node[lbl] (l22) at (2189,810) {\#\$language\_key};
\node[lbl] (l23) at (2291,810) {\#\$active};
\node[lbl] (l24) at (2528,810) {-SENSTIVE\_PARAMETER\\\_NAMES};
\node[lbl] (l25) at (2693,810) {\#\$global\_cache};
\node[lbl] (l26) at (2881,810) {+INPUTFORMAT\_DATE\_SELECTION\\+INPUTFORMAT\_REFERENCELIST\\+INPUTFORMAT\_NUMBER\\+INPUTFORMAT\_TEXT\_SELECTION\\+INPUTFORMAT\_FILE\\+INPUTFORMAT\_REFERENCE\\+INPUTFORMAT\_PLUGIN\\+INPUTFORMAT\_DATETIME\\+INPUTFORMAT\_NONE\\+INPUTFORMAT\_BOOLEAN\\...};
\node[lbl] (l27) at (3121,810) {+COMP\_PLUGINS\\+COMP\_ILCTRL\\+TYPE\_APC\\+COMP\_OBJ\_DEF\\+TYPE\_STATIC\\+COMP\_GLOBAL\_SCREEN\\+COMP\_TEMPLATE\\+ACTIVE\\+MSG\\+COMP\_TPL\_VARIABLES\\...};
\node[lbl] (l28) at (3261,810) {\#\$instances};
\node[lbl] (l29) at (3416,810) {\#\$translations};
\node[lbl] (l30) at (3751,810) {+PLUGIN\_BASE\_PATH};
\node[lbl] (l31) at (4092,810) {+KEY\_UNSAFE\_COMMANDS\\+KEY\_CLASS\_CID\\+KEY\_CLASS\_CHILDREN\\+KEY\_CLASS\_PARENTS\\+KEY\_SAFE\_COMMANDS\\+KEY\_CLASS\_CID\_PATHS\\+KEY\_CLASS\_PATH\\+KEY\_CLASS\_NAME};
\node[lbl] (l32) at (4374,810) {+CMD\_MODE\_HTML\\+PARAM\_CMD\\+PARAM\_CMD\_FALLBACK\\+PARAM\_CMD\_MODE\\+PARAM\_CMD\_CLASS\\+CMD\_POST\\+CMD\_MODE\_PROCESS\\+PROTECTED\_PARAMETERS\\+PARAM\_CID\_PATH\\+PARAM\_CSRF\_TOKEN\\...};
\node[lbl] (l33) at (2086,1181) {+\$lang\_name\\+\$lang\_user\\+\$lang\_path\\\#\$cust\_lang\_path\\+\$separator\\+\$comment\_separator\\+\$lang\_key\\+\$lang\_default};
\node[lbl] (l34) at (2299,1180) {\#\$loaded};
\node[lbl] (l35) at (3404,1181) {\#\$lng\_log\\\#\$used\_modules\\\#\$used\_topics};
\node[lbl] (l36) at (3540,1181) {\#\$cached\_modules\\\#\$map\_modules\_txt\\+\$loaded\_modules\\+\$text};
\node[lbl] (l37) at (82,1590) {\#\$storage\_location\\\_override\\\#\$order\\\#\$datatype\_id\\\#\$table\_id};
\node[lbl] (l38) at (706,1598) {\#\$setting};
\node[lbl] (l39) at (1105,1598) {\#\$error};
\node[lbl] (l40) at (1693,1598) {\#\$description\\\#\$title\\\#\$id};
\node[lbl] (l41) at (2226,1597) {\#\$usage\_log\_enabled};
\node[lbl] (l42) at (2629,1597) {\#\$global\_cache};
\node[lbl] (l43) at (3275,1597) {-\$logger};
\node[lbl] (l44) at (3819,1597) {\#\$property};
\node[lbl] (l45) at (4242,1598) {-\$component\_factory};
\node[lbl] (l46) at (4380,1598) {-\$structure};
\node[lbl] (l47) at (4598,1598) {-\$path\_factory};
\node[lbl] (l48) at (4713,1598) {-\$refinery};
\node[lbl] (l49) at (4808,1598) {-\$exec\_object};
\node[lbl] (l50) at (4925,1598) {-\$get\_parameters\\-\$post\_parameters};
\node[lbl] (l51) at (5172,1598) {-\$response\_sender};
\node[lbl] (l52) at (5365,1598) {-\$context};
\node[lbl] (l53) at (5567,1598) {-\$server\_request};
\node[lbl] (l54) at (5789,1598) {-\$token\_repository};
\node[lbl] (l55) at (6002,1598) {-\$query\_parser};
\node[lbl] (l56) at (205,1925) {\#\$db};
\node[lbl] (l57) at (1997,1926) {\#\$unique\\\#\$exportable};
\node[lbl] (l58) at (3664,1925) {+PROP\_LEARNING\_PROGRESS\\+PROP\_TEXTAREA\\+PROP\_URL\\+PROP\_PLUGIN\_HOOK\\\_NAME\\+PROP\_DISPLAY\_COPY\\\_LINK\_ACTION\_MENU\\+PROP\_REFERENCE\_LINK\\+PROP\_N\_REFERENCE\\+PROP\_ILIAS\_REFERENCE\\\_LINK\\+PROP\_LENGTH\\+PROP\_LINK\_DETAIL\\\_PAGE\_MOB\\...};
\node[lbl] (l59) at (1908,2135) {\#\$datatype};
\node[lbl] (l60) at (1998,2135) {+\$ilias};
\node[lbl] (l61) at (2629,2135) {\#\$global\_cache};
\node[lbl] (l62) at (2799,2135) {\#\$log};
\node[lbl] (l63) at (3987,2330) {\#\$component\_repository};
\node[lbl] (l64) at (4179,2330) {\#\$component\_factory};
\node[lbl] (l65) at (2347,2532) {\#\$lng};
\node[lbl] (l66) at (140,2532) {\#\$http\\\#\$refinery};
\node[lbl] (l67) at (4566,2533) {\#\$ctrl};
\node[lbl] (l68) at (3633,2814) {\#\$lng};
\node[lbl] (l69) at (3224,3082) {\#\$field};
\end{tikzpicture}
\end{document}
